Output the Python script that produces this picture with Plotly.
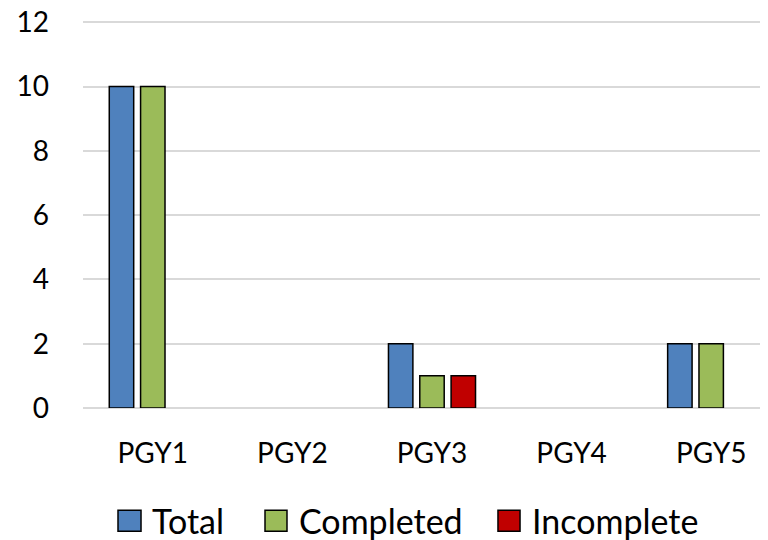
import plotly.graph_objects as go

categories = ["PGY1", "PGY2", "PGY3", "PGY4", "PGY5"]
total = [10, None, 2, None, 2]
completed = [10, None, 1, None, 2]
incomplete = [None, None, 1, None, None]

names = ["Total", "Completed", "Incomplete"]
colors = ["#4F81BD", "#9BBB59", "#C00000"]
values = [total, completed, incomplete]

fig = go.Figure()
for name, vals, col in zip(names, values, colors):
    fig.add_trace(go.Bar(x=categories, y=vals, name=name, showlegend=False,
                         marker=dict(color=col, line=dict(color="black", width=1.5))))

# manual legend (positions in paper coordinates)
sq_x = [(0.0511, 0.0847), (0.2657, 0.2978), (0.6058, 0.6380)]
txt_x = [0.0978, 0.3124, 0.6526]
sq_y = (-0.3170, -0.2630)
txt_y = -0.2885
for (x0, x1), tx, name, col in zip(sq_x, txt_x, names, colors):
    fig.add_shape(type="rect", xref="paper", yref="paper", x0=x0, x1=x1,
                  y0=sq_y[0], y1=sq_y[1], fillcolor=col,
                  line=dict(color="black", width=1.5))
    fig.add_annotation(xref="paper", yref="paper", x=tx, y=txt_y, text=name,
                       showarrow=False, xanchor="left", yanchor="middle",
                       font=dict(size=34, family="Lato, Open Sans, sans-serif", color="black"))

fig.update_layout(
    width=760, height=532,
    margin=dict(l=75, r=0, t=11, b=132, autoexpand=False),
    paper_bgcolor="white", plot_bgcolor="white",
    barmode="group", bargap=0.327, bargroupgap=0.22,
    font=dict(family="Lato, Open Sans, sans-serif", size=28, color="black"),
    showlegend=False,
    xaxis=dict(range=[-0.5, 4.407], showgrid=False, showline=False, ticks="",
               ticklabelstandoff=26, automargin=False),
    yaxis=dict(range=[0, 12.1], dtick=2, tick0=0, showgrid=True, gridcolor="#D9D9D9",
               gridwidth=1.5, zeroline=True, zerolinecolor="#D9D9D9", zerolinewidth=1.5,
               showline=False, ticks="", ticklabelstandoff=33, automargin=False,
               ticklabeloverflow="allow"),
)
fig.write_html("out.html")
